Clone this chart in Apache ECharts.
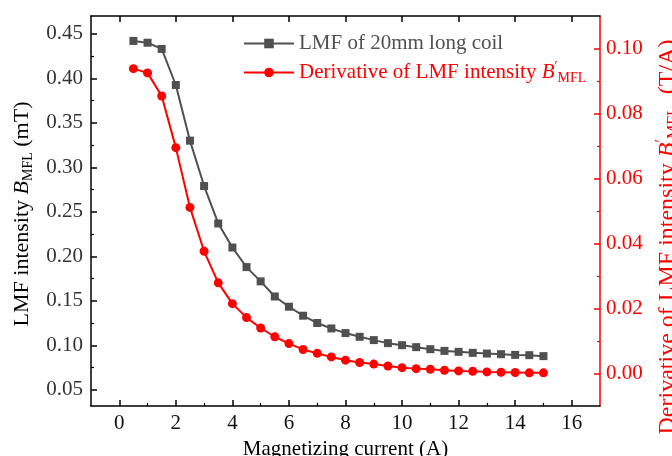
<!DOCTYPE html>
<html>
<head>
<meta charset="utf-8">
<script src="https://cdn.jsdelivr.net/npm/echarts@6/dist/echarts.min.js"></script>
<style>html,body{margin:0;padding:0;background:#fff}#c{width:672px;height:456px}</style>
</head>
<body>
<div id="c"></div>
<script>
var current = [0.5,1,1.5,2,2.5,3,3.5,4,4.5,5,5.5,6,6.5,7,7.5,8,8.5,9,9.5,10,10.5,11,11.5,12,12.5,13,13.5,14,14.5,15];
var lmf = [0.442,0.440,0.433,0.3925,0.330,0.279,0.237,0.210,0.188,0.172,0.155,0.1435,0.1334,0.1252,0.1191,0.1139,0.1097,0.1060,0.1026,0.1003,0.0981,0.0958,0.0939,0.0928,0.0917,0.0909,0.0902,0.0894,0.0891,0.0880];
var deriv = [0.0938,0.0925,0.0854,0.0695,0.0511,0.0376,0.0279,0.0215,0.0172,0.0140,0.0113,0.0092,0.0074,0.0062,0.0051,0.0041,0.0034,0.0029,0.0023,0.0018,0.0015,0.0013,0.0010,0.0008,0.0007,0.0005,0.0004,0.0003,0.0002,0.0002];
var xTicks = [0,2,4,6,8,10,12,14,16];
var xMinor = [1,3,5,7,9,11,13,15];
var leftTicks = [0.05,0.10,0.15,0.20,0.25,0.30,0.35,0.40,0.45];
var leftMinor = [0.075,0.125,0.175,0.225,0.275,0.325,0.375,0.425];
var rightTicks = [0.00,0.02,0.04,0.06,0.08,0.10];
var rightMinor = [0.01,0.03,0.05,0.07,0.09];
var name1 = 'LMF of 20mm long coil';
var name2 = 'Derivative of LMF intensity B\u2032MFL';

var FONT = 'Liberation Serif';
var RED = '#ff0000';
var GRAY = '#505050';
function pts(xs, ys){ return xs.map(function(x,i){ return [x, ys[i]]; }); }
function richSet(color, fs){
  return {
    i: {fontStyle:'italic', fontFamily:FONT, fontSize:fs, color:color, lineHeight:fs+4},
    sub: {fontFamily:FONT, fontSize:Math.round(fs*0.65), color:color, lineHeight:12, verticalAlign:'bottom'},
    sup: {fontFamily:FONT, fontSize:Math.round(fs*0.65), color:color, lineHeight:12, verticalAlign:'top'}
  };
}
var chart = echarts.init(document.getElementById('c'), null, {renderer:'canvas'});
var option = {
  animation:false,
  backgroundColor:'#fff',
  grid:{left:91, right:72, top:16, bottom:50, containLabel:false, outerBoundsMode:'none'},
  legend:{
    orient:'vertical', left:238, top:26, itemWidth:50, itemHeight:12, itemGap:4,
    textStyle:{fontFamily:FONT, fontSize:21, lineHeight:25, rich:richSet(RED, 21)},
    data:[{name:name1, textStyle:{color:GRAY}}, {name:name2, textStyle:{color:RED}}],
    formatter:function(n){ return n===name2 ? 'Derivative of LMF intensity {i|B}{sup|\u2032}{sub|MFL}' : n; }
  },
  xAxis:[
    {type:'value', position:'bottom', min:-1, max:17,
     name:'Magnetizing current (A)', nameLocation:'middle', nameGap:31,
     nameTextStyle:{fontFamily:FONT, fontSize:21, color:'#000'},
     axisLine:{show:true, onZero:false, lineStyle:{color:'#000', width:1.5}},
     axisTick:{show:true, inside:true, length:6, customValues:xTicks, lineStyle:{color:'#000', width:1.5}},
     axisLabel:{show:true, customValues:xTicks, margin:7, fontFamily:FONT, fontSize:21, color:'#111'},
     splitLine:{show:false}},
    {type:'value', position:'top', min:-1, max:17,
     axisLine:{show:true, onZero:false, lineStyle:{color:'#000', width:1.5}},
     axisTick:{show:true, inside:true, length:6, customValues:xTicks, lineStyle:{color:'#000', width:1.5}},
     axisLabel:{show:false}, splitLine:{show:false}},
    {type:'value', position:'bottom', min:-1, max:17,
     axisLine:{show:false, onZero:false},
     axisTick:{show:true, inside:true, length:3, customValues:xMinor, lineStyle:{color:'#000', width:1.2}},
     axisLabel:{show:false}, splitLine:{show:false}}
  ],
  yAxis:[
    {type:'value', position:'left', min:0.032, max:0.470,
     name:'LMF intensity {i|B}{sub|MFL} (mT)', nameLocation:'middle', nameGap:53, nameRotate:90,
     nameTextStyle:{fontFamily:FONT, fontSize:22, color:'#000', lineHeight:26, rich:richSet('#000', 22), padding:[0,6,0,0]},
     axisLine:{show:true, onZero:false, lineStyle:{color:'#000', width:1.5}},
     axisTick:{show:true, inside:true, length:6, customValues:leftTicks, lineStyle:{color:'#000', width:1.5}},
     axisLabel:{show:true, customValues:leftTicks, margin:8, fontFamily:FONT, fontSize:21, color:'#333',
       formatter:function(v){ return v.toFixed(2); }},
     splitLine:{show:false}},
    {type:'value', position:'right', min:-0.01, max:0.11,
     name:'Derivative of LMF intensity {i|B}{sup|\u2032}{sub|MFL}  (T/A)', nameLocation:'middle', nameGap:42, nameRotate:90,
     nameTextStyle:{fontFamily:FONT, fontSize:24, color:RED, lineHeight:26, rich:richSet(RED, 24), padding:[0,52,0,0]},
     axisLine:{show:true, onZero:false, lineStyle:{color:RED, width:1.5}},
     axisTick:{show:true, inside:true, length:6, customValues:rightTicks, lineStyle:{color:RED, width:1.5}},
     axisLabel:{show:true, customValues:rightTicks, margin:6, fontFamily:FONT, fontSize:21, color:RED,
       formatter:function(v){ return v.toFixed(2); }},
     splitLine:{show:false}},
    {type:'value', position:'left', min:0.032, max:0.470,
     axisLine:{show:false, onZero:false},
     axisTick:{show:true, inside:true, length:3, customValues:leftMinor, lineStyle:{color:'#000', width:1.2}},
     axisLabel:{show:false}, splitLine:{show:false}},
    {type:'value', position:'right', min:-0.01, max:0.11,
     axisLine:{show:false, onZero:false},
     axisTick:{show:true, inside:true, length:3, customValues:rightMinor, lineStyle:{color:RED, width:1.2}},
     axisLabel:{show:false}, splitLine:{show:false}}
  ],
  series:[
    {name:name1, type:'line', xAxisIndex:0, yAxisIndex:0, data:pts(current, lmf),
     symbol:'rect', symbolSize:8, color:GRAY, lineStyle:{color:GRAY, width:2}, itemStyle:{color:GRAY}},
    {name:name2, type:'line', xAxisIndex:0, yAxisIndex:1, data:pts(current, deriv),
     symbol:'circle', symbolSize:9, color:RED, lineStyle:{color:RED, width:2}, itemStyle:{color:RED}}
  ]
};
chart.setOption(option);
</script>
</body>
</html>
